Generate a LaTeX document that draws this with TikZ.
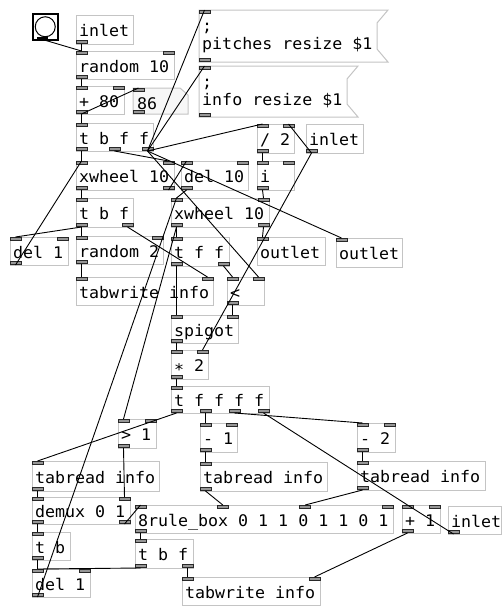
\documentclass[tikz,border=0pt]{standalone}
\usepackage{fontspec}
\newfontfamily\pdfontfam[FakeStretch=1.04]{DejaVu Sans Mono}
\usetikzlibrary{calc}
\definecolor{boxgray}{RGB}{196,196,196}
\definecolor{ioedge}{RGB}{40,40,40}
\definecolor{iofill}{RGB}{150,150,150}
\newcommand\pdfnt{\pdfontfam\fontsize{16}{19}\selectfont}
\tikzset{
  pdbox/.style={draw=boxgray, line width=1pt, anchor=north west, inner xsep=3pt, inner ysep=0pt,
    text height=15pt, text depth=1pt, font=\pdfnt, outer sep=0pt},
  iolet/.style={draw=ioedge, fill=iofill, line width=0.8pt},
  conn/.style={draw=black, line width=0.9pt},
  pdtext/.style={anchor=base west, inner sep=0pt, font=\pdfnt},
  pdframe/.style={draw=boxgray, line width=1pt},
}
% iolets: name x1 y1 x2 y2 nin nout
\newcommand\pdio[7]{%
  \ifnum#6>0
  \foreach \k in {1,...,#6}{%
    \pgfmathsetmacro\pdxx{#2+(#4-#2-11)*(\k-1)/max(#6-1,1)}%
    \draw[iolet] (\pdxx,#3+0.5) rectangle (\pdxx+11,#3+3.5);
    \coordinate (#1-i\k) at (\pdxx+5.5,#3);
  }\fi
  \ifnum#7>0
  \foreach \k in {1,...,#7}{%
    \pgfmathsetmacro\pdxx{#2+(#4-#2-11)*(\k-1)/max(#7-1,1)}%
    \draw[iolet] (\pdxx,#5-3.5) rectangle (\pdxx+11,#5-0.5);
    \coordinate (#1-o\k) at (\pdxx+5.5,#5);
  }\fi
}
% object box: name x1 y1 x2 y2 text nin nout
\newcommand\pdo[8]{%
  \pgfmathsetmacro\pdH{#5-#3}%
  \pgfmathsetmacro\pdTW{#4-#2-6}%
  \node[pdbox, minimum height=\pdH pt] (#1) at (#2,#3) {\makebox[\pdTW pt][l]{#6}};
  \pdio{#1}{#2}{#3}{#4}{#5}{#7}{#8}%
}
\begin{document}
\begin{tikzpicture}[x=1pt,y=-1pt]
\useasboundingbox (0,0) rectangle (502,606);
\fill[white] (0,0) rectangle (502,606);

% bang
\node[draw=black, line width=1.5pt, anchor=north west, minimum width=25pt, minimum height=26pt, inner sep=0pt] (bng) at (32,13) {};
\draw[line width=1pt] (bng.center) circle (10);
\fill[black] (37,36.5) rectangle (48,39.5);
\coordinate (bng-o1) at (42.5,39.5);

% message boxes
\draw[pdframe] (199,10) -- (388,10) -- (377,23) -- (377,49) -- (388,62) -- (199,62) -- cycle;
\node[anchor=north west, inner sep=0pt, minimum width=178pt, minimum height=52pt] (msga) at (199,10) {};
\node[pdtext] (msga-t1) at (202,31) {;};
\node[pdtext] (msga-t2) at (202,49) {pitches resize \$1};
\pdio{msga}{199}{10}{377}{62}{1}{1}

\draw[pdframe] (199,66) -- (358,66) -- (347,79) -- (347,104) -- (358,117) -- (199,117) -- cycle;
\node[anchor=north west, inner sep=0pt, minimum width=148pt, minimum height=51pt] (msgb) at (199,66) {};
\node[pdtext] (msgb-t1) at (202,87) {;};
\node[pdtext] (msgb-t2) at (202,105) {info resize \$1};
\pdio{msgb}{199}{66}{347}{117}{1}{1}

% number box
\filldraw[fill=gray!6, draw=boxgray, line width=1pt] (133,88) -- (180,88) -- (188,95) -- (188,114) -- (133,114) -- cycle;
\node[anchor=north west, inner sep=0pt, minimum width=55pt, minimum height=26pt] (num86) at (133,88) {};
\node[pdtext] (num86-t) at (137,109) {86};
\pdio{num86}{133}{88}{188}{114}{1}{1}

% objects
\pdo{inleta}{76}{15}{133}{44}{inlet}{0}{1}
\pdo{rand10}{76}{51}{174}{79}{random 10}{2}{1}
\pdo{plus80}{76}{86}{124}{114}{+ 80}{2}{1}
\pdo{tbff}{76}{123}{153}{151}{t b f f}{1}{3}
\pdo{divtwo}{257}{124}{294}{153}{/ 2}{2}{1}
\pdo{inletb}{306}{124}{363}{153}{inlet}{0}{1}
\pdo{xwa}{76}{161}{174}{190}{xwheel 10}{2}{2}
\pdo{delten}{181}{161}{248}{190}{del 10}{2}{1}
\pdo{ibox}{257}{161}{294}{190}{i}{2}{1}
\pdo{xwb}{171}{198}{269}{227}{xwheel 10}{2}{2}
\pdo{tbfa}{76}{198}{133}{227}{t b f}{1}{2}
\pdo{delonea}{10}{237}{68}{265}{del 1}{2}{1}
\pdo{randtwo}{76}{236}{163}{264}{random 2}{2}{1}
\pdo{tff}{171}{237}{229}{266}{t f f}{1}{2}
\pdo{outa}{257}{237}{325}{265}{outlet}{1}{0}
\pdo{outb}{336}{238}{402}{267}{outlet}{1}{0}
\pdo{tabwa}{76}{277}{213}{305}{tabwrite info}{2}{0}
\pdo{lt}{227}{277}{264}{305}{<}{2}{1}
\pdo{spigot}{171}{315}{238}{343}{spigot}{2}{1}
\pdo{times}{171}{350}{208}{379}{\raisebox{-4pt}{*} 2}{2}{1}
\pdo{tffff}{171}{386}{269}{413}{t f f f f}{1}{4}
\pdo{gtone}{118}{419}{156}{448}{> 1}{2}{1}
\pdo{minone}{200}{423}{237}{452}{- 1}{2}{1}
\pdo{mintwo}{357}{423}{395}{452}{- 2}{2}{1}
\pdo{tabra}{32}{461}{159}{491}{tabread info}{1}{1}
\pdo{tabrb}{200}{462}{327}{491}{tabread info}{1}{1}
\pdo{tabrc}{357}{461}{485}{490}{tabread info}{1}{1}
\pdo{demux}{32}{497}{130}{524}{demux 0 1}{2}{2}
\pdo{rule}{135}{505}{393}{533}{8rule\_box 0 1 1 0 1 1 0 1}{4}{1}
\pdo{plusone}{402}{505}{440}{533}{+ 1}{2}{1}
\pdo{inletc}{448}{506}{501}{534}{inlet}{0}{1}
\pdo{tbtwo}{32}{532}{70}{560}{t b}{1}{1}
\pdo{tbfb}{135}{539}{193}{568}{t b f}{1}{2}
\pdo{deloneb}{32}{569}{90}{597}{del 1}{2}{1}
\pdo{tabwb}{182}{577}{320}{605}{tabwrite info}{2}{0}

% connections
\draw[conn] (bng-o1) -- (rand10-i1);
\draw[conn] (inleta-o1) -- (rand10-i1);
\draw[conn] (rand10-o1) -- (plus80-i1);
\draw[conn] (plus80-o1) -- (num86-i1);
\draw[conn] (plus80-o1) -- (tbff-i1);
\draw[conn] (tbff-o1) -- (xwa-i1);
\draw[conn] (tbff-o2) -- (xwa-i2);
\draw[conn] (tbff-o3) -- (msga-i1);
\draw[conn] (tbff-o3) -- (msgb-i1);
\draw[conn] (tbff-o3) -- (divtwo-i1);
\draw[conn] (tbff-o3) -- (outb-i1);
\draw[conn] (tbff-o3) -- (lt-i2);
\draw[conn] (inletb-o1) -- (divtwo-i2);
\draw[conn] (inletb-o1) -- (times-i2);
\draw[conn] (divtwo-o1) -- (ibox-i1);
\draw[conn] (ibox-o1) -- (xwb-i2);
\draw[conn] (xwa-o1) -- (tbfa-i1);
\draw[conn] (xwa-o2) -- (delten-i1);
\draw[conn] (delten-o1) -- (xwb-i1);
\draw[conn] (delonea-o1) -- (xwa-i1);
\draw[conn] (tbfa-o1) -- (randtwo-i1);
\draw[conn] (tbfa-o1) -- (delonea-i1);
\draw[conn] (tbfa-o2) -- (tabwa-i2);
\draw[conn] (randtwo-o1) -- (tabwa-i1);
\draw[conn] (xwb-o1) -- (tff-i1);
\draw[conn] (xwb-o1) -- (gtone-i1);
\draw[conn] (xwb-o2) -- (outa-i1);
\draw[conn] (tff-o1) -- (spigot-i1);
\draw[conn] (tff-o2) -- (lt-i1);
\draw[conn] (lt-o1) -- (spigot-i2);
\draw[conn] (spigot-o1) -- (times-i1);
\draw[conn] (times-o1) -- (tffff-i1);
\draw[conn] (tffff-o1) -- (tabra-i1);
\draw[conn] (tffff-o2) -- (minone-i1);
\draw[conn] (tffff-o3) -- (mintwo-i1);
\draw[conn] (tffff-o4) -- (plusone-i1);
\draw[conn] (inletc-o1) -- (plusone-i1);
\draw[conn] (minone-o1) -- (tabrb-i1);
\draw[conn] (mintwo-o1) -- (tabrc-i1);
\draw[conn] (tabra-o1) -- (demux-i1);
\draw[conn] (gtone-o1) -- (demux-i2);
\draw[conn] (demux-o1) -- (tbtwo-i1);
\draw[conn] (demux-o2) -- (rule-i1);
\draw[conn] (tabrb-o1) -- (rule-i2);
\draw[conn] (tabrc-o1) -- (rule-i3);
\draw[conn] (rule-o1) -- (tbfb-i1);
\draw[conn] (tbtwo-o1) -- (deloneb-i1);
\draw[conn] (tbfb-o1) -- (deloneb-i1);
\draw[conn] (tbfb-o2) -- (tabwb-i1);
\draw[conn] (plusone-o1) -- (tabwb-i2);
\draw[conn] (deloneb-o1) -- (xwb-i1);
\end{tikzpicture}
\end{document}
